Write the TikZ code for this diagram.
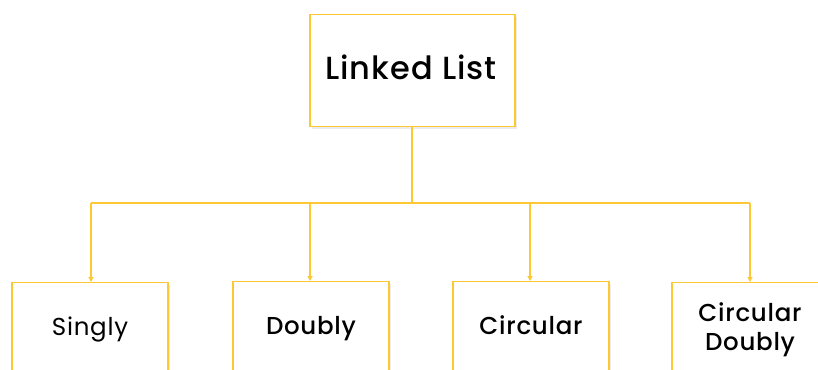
\documentclass[tikz,border=0pt]{standalone}
\usepackage{fontspec}
\setmainfont{Poppins}[LetterSpace=3]
\newfontfamily\pmed{Poppins Medium}[LetterSpace=3]
\usetikzlibrary{arrows.meta,shadows}
\definecolor{ylw}{RGB}{252,201,52}
\tikzset{
  box/.style={draw=ylw, line width=1.4pt, fill=white, rectangle, inner sep=0pt,
    drop shadow={opacity=0.15, shadow xshift=2pt, shadow yshift=-2pt}},
  conn/.style={draw=ylw, line width=1.2pt},
  arr/.style={conn, -{Triangle[width=5pt,length=5pt]}},
  lbl/.style={font=\pmed\fontsize{24.5}{29}\selectfont, align=center, anchor=base}
}
\begin{document}
\begin{tikzpicture}[x=1pt,y=-1pt]
\useasboundingbox (0,0) rectangle (818,369);
\clip (0,0) rectangle (818,369);
\node[box, minimum width=205pt, minimum height=112pt, anchor=north] (root) at (412.5,14) {};
\node[font=\pmed\fontsize{32}{36}\selectfont, anchor=base] (troot) at (411,79) {Linked List};
\node[box, minimum width=156pt, minimum height=130pt, anchor=north] (s) at (90,282) {};
\node[box, minimum width=156pt, minimum height=130pt, anchor=north] (d) at (311,281) {};
\node[box, minimum width=156pt, minimum height=130pt, anchor=north] (c) at (531,281) {};
\node[box, minimum width=156pt, minimum height=130pt, anchor=north] (cd) at (750,282) {};
\node[font=\fontsize{24.5}{29}\selectfont, anchor=base] (ts) at (90,335) {Singly};
\node[lbl] (td) at (311,334) {Doubly};
\node[lbl] (tc) at (531,334) {Circular};
\node[lbl] (tcd) at (750,350) {Circular\\Doubly};
\coordinate (j) at (412,203);
\coordinate (js) at (91,203);
\coordinate (jcd) at (750,203);
\draw[conn] (root.south -| j) -- (j);
\draw[conn] (js) -- (jcd);
\draw[arr] (js) -- (js |- s.north);
\draw[arr] (310,203) -- (310,281);
\draw[arr] (530,203) -- (530,281);
\draw[arr] (jcd) -- (jcd |- cd.north);
\end{tikzpicture}
\end{document}
